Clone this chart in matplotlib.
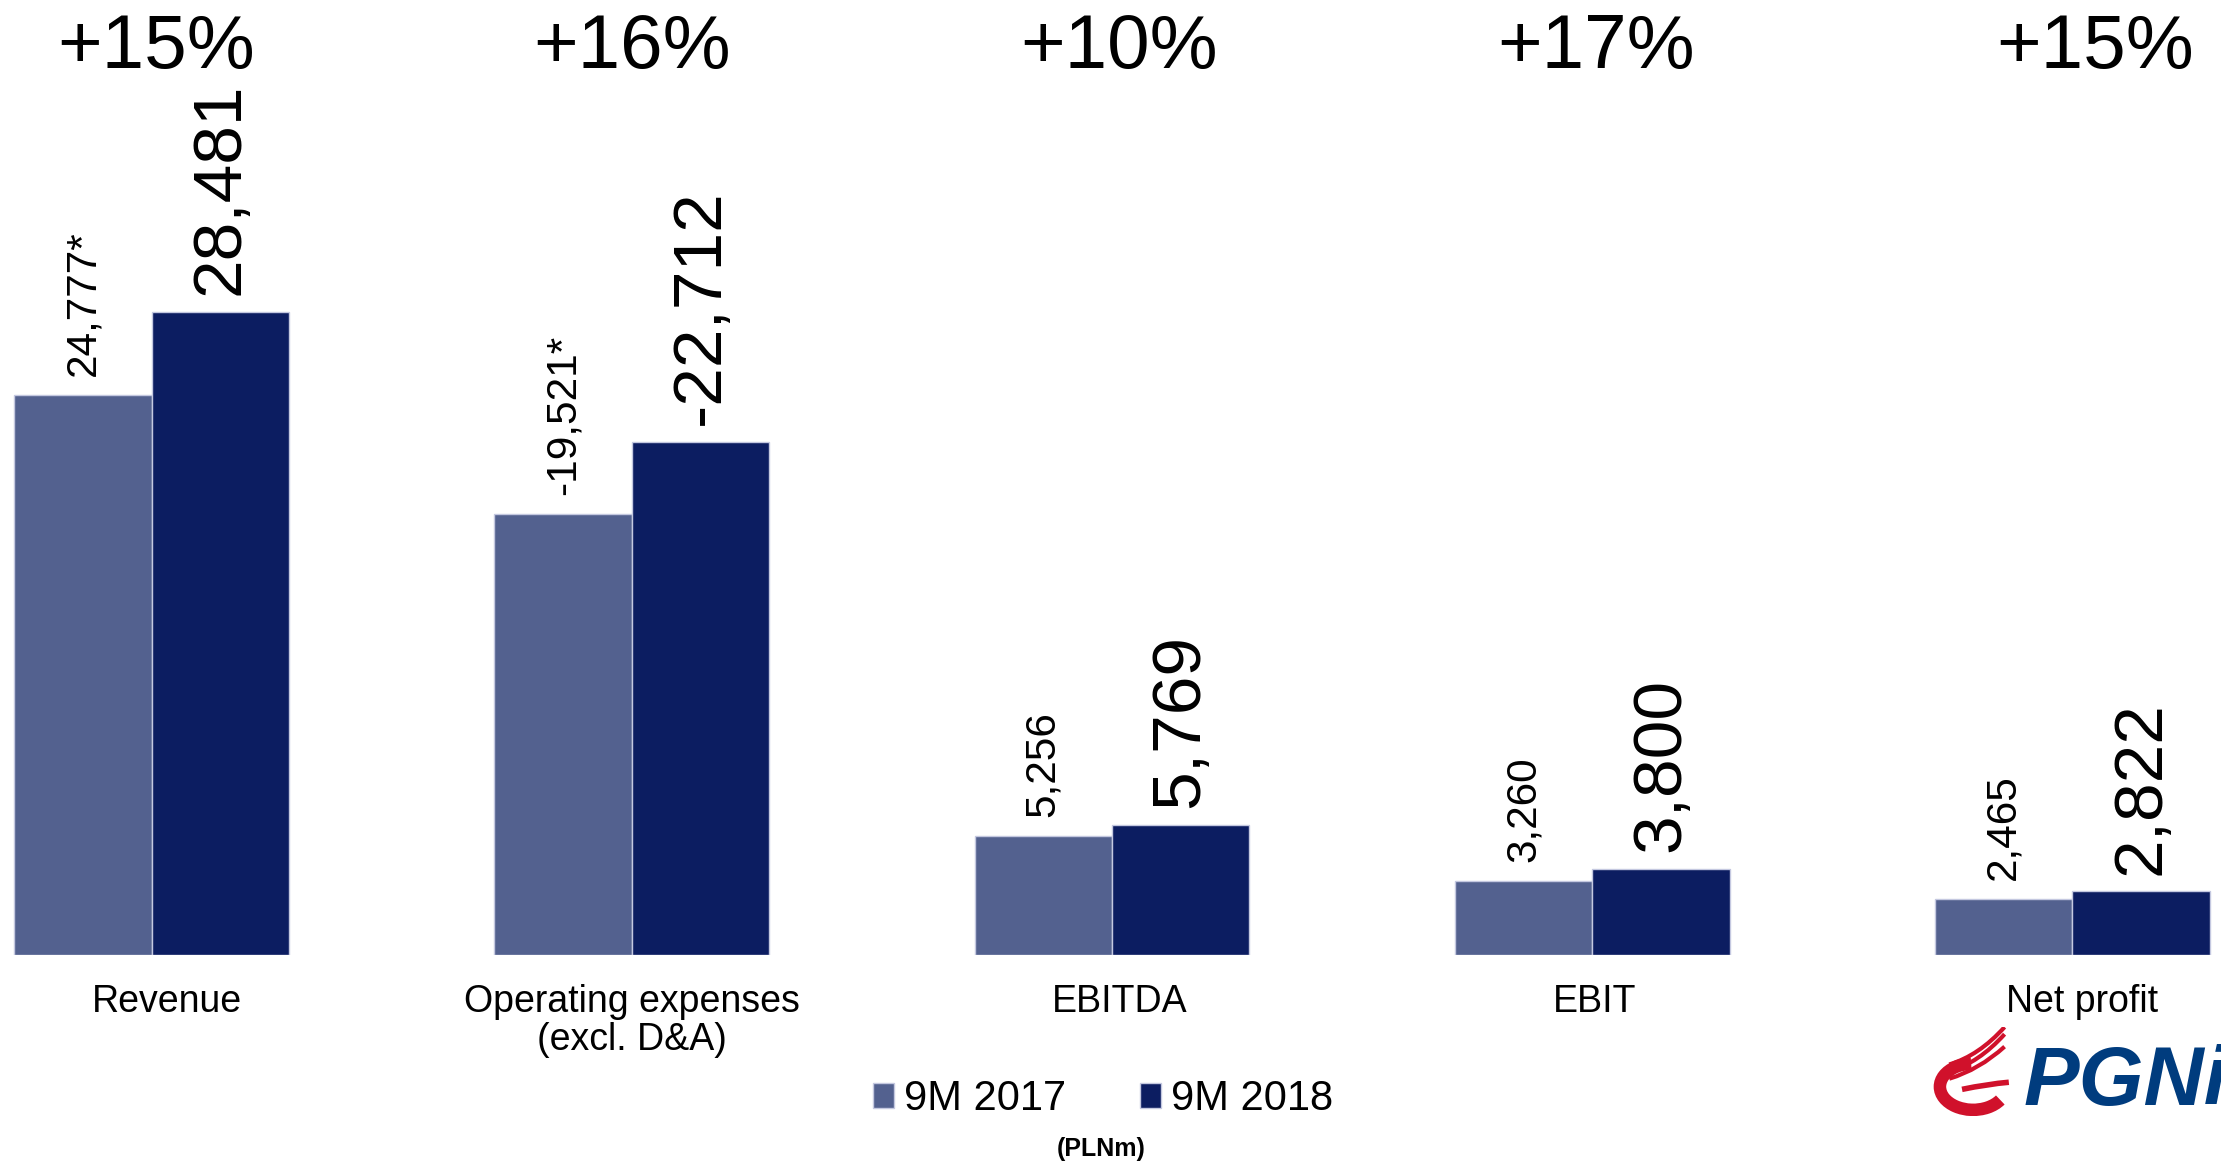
"""
9M 2017 vs 9M 2018 key financials (PLNm) - grouped bar chart
"""

# Imports
import matplotlib
matplotlib.use('Agg')
import matplotlib.pyplot as plt
import matplotlib.patches as mpatches
import matplotlib.transforms as mtransforms
from matplotlib.path import Path
import numpy as np

plt.rcParams['font.family'] = ['Liberation Sans', 'DejaVu Sans']

# Data
categories = ['Revenue', 'Operating expenses\n(excl. D&A)', 'EBITDA', 'EBIT', 'Net profit']
series = ['9M 2017', '9M 2018']
values_2017 = [24777, 19521, 5256, 3260, 2465]   # opex plotted as absolute value
values_2018 = [28481, 22712, 5769, 3800, 2822]
labels_2017 = ['24,777*', '-19,521*', '5,256', '3,260', '2,465']
labels_2018 = ['28,481', '-22,712', '5,769', '3,800', '2,822']
changes = ['+15%', '+16%', '+10%', '+17%', '+15%']

# small horizontal nudges of the slide text boxes (in group units)
change_nudge = [0.009, 0.0, 0.015, 0.009, 0.047]
cat_nudge = [0.032, 0.0, 0.015, 0.006, 0.02]

# Colours
light_blue = '#53618F'
dark_blue = '#0C1D61'
edge = '#C4C8E0'


def draw_chart():
    """
    Draw the grouped bars, labels and legend.
    """
    fig = plt.figure(figsize=(22.21, 11.65), dpi=100)
    ax = fig.add_axes([0, 0.1803, 1, 0.8197])

    x = np.arange(len(categories))
    w = 0.286
    b1 = ax.bar(x - w / 2, values_2017, w, color=light_blue, edgecolor=edge,
                linewidth=1, label=series[0])
    b2 = ax.bar(x + w / 2, values_2018, w, color=dark_blue, edgecolor=edge,
                linewidth=1, label=series[1])

    ax.set_xlim(-0.3157, 4.3095)
    ax.set_ylim(0, 42280)

    # value labels above the bars
    for xi, v, lab in zip(x - w / 2, values_2017, labels_2017):
        ax.annotate(lab, (xi, v), xytext=(0, 14), textcoords='offset points',
                    rotation=90, ha='center', va='bottom', fontsize=30.5)
    for xi, v, lab in zip(x + w / 2, values_2018, labels_2018):
        ax.annotate(lab, (xi, v), xytext=(0, 12), textcoords='offset points',
                    rotation=90, ha='center', va='bottom', fontsize=50)

    trans = mtransforms.blended_transform_factory(ax.transData, ax.transAxes)
    # percentage change on top
    for xi, ch, dx in zip(x, changes, change_nudge):
        ax.text(xi + dx, 0.929, ch, transform=trans, ha='center', va='baseline',
                fontsize=55)

    # category names under the bars
    for xi, cat, dx in zip(x, categories, cat_nudge):
        ax.text(xi + dx, -0.03, cat, transform=trans, ha='center', va='top',
                fontsize=27, linespacing=1.1)

    ax.set_xticks([])
    ax.set_yticks([])
    for s in ax.spines.values():
        s.set_visible(False)

    # legend
    fig.legend(handles=[b1, b2], loc='center', bbox_to_anchor=(0.4967, 0.0567),
               ncol=2, frameon=False, fontsize=30, handlelength=0.5,
               handleheight=0.55, handletextpad=0.24, columnspacing=1.77)
    fig.text(0.496, 0.014, '(PLNm)', ha='center', va='center', fontsize=18,
             fontweight='bold')

    # logo (approximation), cut by the right edge as in the slide
    fig.text(0.911, 0.0515, 'PGNiG', ha='left', va='baseline', fontsize=60,
             fontweight='bold', fontstyle='italic', color='#003C7E')
    lax = fig.add_axes([0.870, 0.042, 0.0383, 0.0764])
    lax.set_xlim(0, 1)
    lax.set_ylim(0, 1)
    lax.axis('off')
    red = '#D0112B'
    lax.add_patch(mpatches.Arc((0.48, 0.33), 0.78, 0.52, theta1=95, theta2=335,
                               color=red, linewidth=9))
    for y0, y1 in [(0.42, 0.78), (0.50, 0.92), (0.58, 1.0)]:
        p = Path([(0.2, y0), (0.55, y0 + 0.1), (0.85, y1)],
                 [Path.MOVETO, Path.CURVE3, Path.CURVE3])
        lax.add_patch(mpatches.PathPatch(p, fill=False, edgecolor=red, linewidth=3))
    lax.add_patch(mpatches.PathPatch(
        Path([(0.35, 0.30), (0.65, 0.36), (0.9, 0.38)],
             [Path.MOVETO, Path.CURVE3, Path.CURVE3]),
        fill=False, edgecolor=red, linewidth=4))

    fig.savefig('out.png', dpi=100)


draw_chart()
